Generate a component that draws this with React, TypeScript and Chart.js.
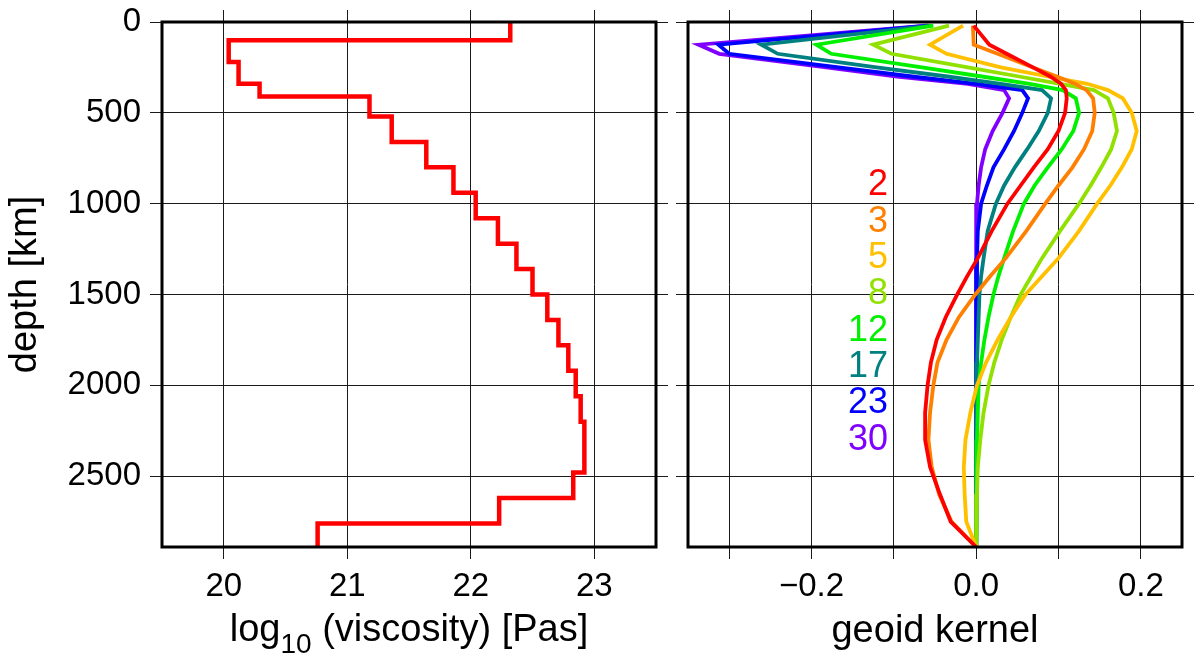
import { useEffect, useRef } from 'react';
import { Chart, registerables } from 'chart.js';

Chart.register(...registerables);

// ---------------- data ----------------
// viscosity profile: layer boundaries (km) and log10 viscosity per layer
const LAYER_BOUNDS = [0, 100, 220, 340, 410, 520, 660, 800, 940, 1080, 1220, 1360, 1500, 1640, 1780, 1920, 2060, 2200, 2480, 2620, 2760, 2890];
const LOG_VISCOSITY = [22.32, 20.04, 20.12, 20.29, 21.18, 21.36, 21.64, 21.86, 22.04, 22.22, 22.37, 22.5, 22.62, 22.71, 22.79, 22.85, 22.89, 22.92, 22.83, 22.23, 20.76];

// geoid kernels: common depth samples (km)
const KERNEL_DEPTHS = [20, 125, 175, 250, 300, 340, 375, 420, 500, 600, 700, 800, 900, 1000, 1150, 1300, 1400, 1500, 1625, 1750, 1875, 2000, 2150, 2300, 2450, 2600, 2750, 2890];
const KERNEL_L2 = [-0.003, 0.016, 0.037, 0.069, 0.09, 0.103, 0.109, 0.11, 0.108, 0.1, 0.087, 0.07, 0.054, 0.038, 0.019, 0.002, -0.011, -0.023, -0.037, -0.048, -0.055, -0.059, -0.062, -0.062, -0.056, -0.044, -0.031, 0];
const KERNEL_L3 = [-0.004, -0.003, 0.026, 0.069, 0.098, 0.12, 0.134, 0.142, 0.144, 0.141, 0.131, 0.117, 0.1, 0.084, 0.061, 0.036, 0.017, -0.001, -0.021, -0.036, -0.047, -0.052, -0.056, -0.058, -0.054, -0.045, -0.03, 0];
const KERNEL_L5 = [-0.016, -0.056, -0.036, 0.03, 0.087, 0.135, 0.16, 0.178, 0.189, 0.195, 0.189, 0.177, 0.163, 0.147, 0.125, 0.1, 0.08, 0.06, 0.042, 0.026, 0.012, 0.001, -0.007, -0.013, -0.015, -0.014, -0.012, 0];
const KERNEL_L8 = [-0.033, -0.125, -0.103, -0.01, 0.052, 0.102, 0.143, 0.16, 0.167, 0.171, 0.164, 0.152, 0.139, 0.125, 0.102, 0.08, 0.067, 0.054, 0.042, 0.031, 0.022, 0.015, 0.009, 0.005, 0.002, 0.001, 0, 0];
const KERNEL_L12 = [-0.052, -0.194, -0.176, -0.066, 0.007, 0.065, 0.105, 0.121, 0.125, 0.118, 0.104, 0.087, 0.071, 0.058, 0.045, 0.034, 0.027, 0.021, 0.015, 0.01, 0.006, 0.003, 0.002, 0.001, 0.001, 0, 0, 0];
const KERNEL_L17 = [-0.055, -0.261, -0.241, -0.121, -0.035, 0.03, 0.08, 0.091, 0.087, 0.076, 0.062, 0.047, 0.034, 0.024, 0.014, 0.009, 0.006, 0.004, 0.003, 0.002, 0.001, 0.001, 0, 0, 0, 0, 0, 0];
const KERNEL_L23 = [-0.058, -0.313, -0.3, -0.167, -0.078, 0, 0.056, 0.063, 0.056, 0.046, 0.034, 0.021, 0.013, 0.006, 0.002, 0.001, 0, 0, 0, 0, 0, 0, 0, 0, 0, 0, 0, 0];
const KERNEL_L30 = [-0.06, -0.337, -0.312, -0.182, -0.096, -0.01, 0.034, 0.04, 0.032, 0.02, 0.011, 0.006, 0.003, 0.001, 0, 0, 0, 0, 0, 0, 0, 0, 0, 0, 0, 0, 0, 0];

const DEGREES = ['2', '3', '5', '8', '12', '17', '23', '30'];
const KERNELS = [KERNEL_L2, KERNEL_L3, KERNEL_L5, KERNEL_L8, KERNEL_L12, KERNEL_L17, KERNEL_L23, KERNEL_L30];
const DEGREE_COLORS = ['#ff0000', '#ff8000', '#ffc000', '#90e000', '#00f000', '#008080', '#0000ff', '#8000ff'];
const LABEL_DEPTHS = [900, 1100, 1300, 1500, 1700, 1900, 2100, 2300];
const LABEL_X = -0.107;

// axes and ticks
const DEPTH_MIN = 0;
const DEPTH_MAX = 2890;
const DEPTH_TICKS = [0, 500, 1000, 1500, 2000, 2500];
const VISC_MIN = 19.5;
const VISC_MAX = 23.5;
const VISC_TICKS = [20, 21, 22, 23];
const KERNEL_MIN = -0.35;
const KERNEL_MAX = 0.25;
const KERNEL_TICKS = [-0.3, -0.2, -0.1, 0, 0.1, 0.2];
const KERNEL_TICK_LABELS = ['', '\u22120.2', '', '0.0', '', '0.2'];

const X_TITLE_LEFT_MAIN = 'log';
const X_TITLE_LEFT_SUB = '10';
const X_TITLE_LEFT_REST = ' (viscosity) [Pas]';

const FONT = "'Liberation Sans', Arial, Helvetica, sans-serif";
const TICK_SIZE = 33;
const TITLE_SIZE = 38;
const GRID_COLOR = '#1a1a1a';

const framePlugin = {
  id: 'frame',
  afterDatasetsDraw(chart: any) {
    const { ctx, chartArea } = chart;
    ctx.save();
    ctx.strokeStyle = '#000';
    ctx.lineWidth = 3;
    ctx.strokeRect(chartArea.left, chartArea.top, chartArea.right - chartArea.left, chartArea.bottom - chartArea.top);
    ctx.restore();
  },
};

const degreeLabelPlugin = {
  id: 'degreeLabels',
  afterDatasetsDraw(chart: any) {
    const { ctx, scales } = chart;
    ctx.save();
    ctx.font = `36px ${FONT}`;
    ctx.textAlign = 'right';
    ctx.textBaseline = 'middle';
    DEGREES.forEach((d, i) => {
      ctx.fillStyle = DEGREE_COLORS[i];
      ctx.fillText(d, scales.x.getPixelForValue(LABEL_X), scales.y.getPixelForValue(LABEL_DEPTHS[i]));
    });
    ctx.restore();
  },
};

// x-axis title with a real subscript (log10)
const subscriptTitlePlugin = {
  id: 'subscriptTitle',
  afterDraw(chart: any) {
    const { ctx, chartArea, height } = chart;
    ctx.save();
    ctx.fillStyle = '#000';
    ctx.textBaseline = 'alphabetic';
    ctx.textAlign = 'left';
    const main = `${TITLE_SIZE}px ${FONT}`;
    const sub = `28px ${FONT}`;
    ctx.font = main;
    const w1 = ctx.measureText(X_TITLE_LEFT_MAIN).width;
    const w3 = ctx.measureText(X_TITLE_LEFT_REST).width;
    ctx.font = sub;
    const w2 = ctx.measureText(X_TITLE_LEFT_SUB).width;
    const total = w1 + w2 + w3;
    let x = (chartArea.left + chartArea.right) / 2 - total / 2;
    const base = height - 14;
    ctx.font = main;
    ctx.fillText(X_TITLE_LEFT_MAIN, x, base);
    x += w1;
    ctx.font = sub;
    ctx.fillText(X_TITLE_LEFT_SUB, x, base + 12);
    x += w2;
    ctx.font = main;
    ctx.fillText(X_TITLE_LEFT_REST, x, base);
    ctx.restore();
  },
};

function setTicks(values: number[]) {
  return (s: any) => {
    s.ticks = values.map((v) => ({ value: v }));
  };
}

function sideAxis(position: string, min: number, max: number, values: number[], reverse: boolean) {
  const horizontal = position === 'top' || position === 'bottom';
  return {
    type: 'linear',
    position,
    min,
    max,
    reverse,
    afterBuildTicks: setTicks(values),
    ticks: { display: false },
    grid: { drawOnChartArea: false, drawTicks: true, tickLength: 12, color: GRID_COLOR, lineWidth: 1 },
    border: { display: false },
    afterFit: (s: any) => {
      if (horizontal) s.height = 12;
      else s.width = 12;
      s.paddingTop = 0;
      s.paddingBottom = 0;
      s.paddingLeft = 0;
      s.paddingRight = 0;
    },
  };
}

function depthAxis(showLabels: boolean, width: number) {
  return {
    type: 'linear',
    position: 'left',
    min: DEPTH_MIN,
    max: DEPTH_MAX,
    reverse: true,
    afterBuildTicks: setTicks(DEPTH_TICKS),
    ticks: {
      display: showLabels,
      padding: 9,
      color: '#000',
      font: { family: FONT, size: TICK_SIZE },
      callback: (v: any) => String(v),
    },
    grid: { color: GRID_COLOR, lineWidth: 1, tickLength: 12, drawTicks: true },
    border: { display: false },
    title: {
      display: showLabels,
      text: 'depth [km]',
      color: '#000',
      font: { family: FONT, size: TITLE_SIZE },
      padding: { top: 3, bottom: 0 },
    },
    afterFit: (s: any) => {
      s.width = width;
      s.paddingTop = 0;
      s.paddingBottom = 0;
    },
  };
}

function valueAxis(min: number, max: number, values: number[], title: string, showTitle: boolean, formatter: (v: number, i: number) => string) {
  return {
    type: 'linear',
    position: 'bottom',
    min,
    max,
    afterBuildTicks: setTicks(values),
    ticks: {
      padding: 8,
      color: '#000',
      maxRotation: 0,
      autoSkip: false,
      font: { family: FONT, size: TICK_SIZE },
      callback: (v: any, i: number) => formatter(Number(v), i),
    },
    grid: { color: GRID_COLOR, lineWidth: 1, tickLength: 12, drawTicks: true },
    border: { display: false },
    title: {
      display: showTitle,
      text: title,
      color: '#000',
      font: { family: FONT, size: TITLE_SIZE },
      padding: { top: 0, bottom: 1 },
    },
    afterFit: (s: any) => {
      s.height = 108;
      s.paddingLeft = 0;
      s.paddingRight = 0;
    },
  };
}

export default function App() {
  const leftRef = useRef<HTMLCanvasElement>(null);
  const rightRef = useRef<HTMLCanvasElement>(null);

  useEffect(() => {
    document.body.style.margin = '0';

    const viscPoints: { x: number; y: number }[] = [];
    LOG_VISCOSITY.forEach((v, i) => {
      viscPoints.push({ x: v, y: LAYER_BOUNDS[i] });
      viscPoints.push({ x: v, y: LAYER_BOUNDS[i + 1] });
    });

    const left = new Chart(leftRef.current as HTMLCanvasElement, {
      type: 'scatter',
      data: {
        datasets: [
          {
            label: 'log10 viscosity',
            data: viscPoints,
            showLine: true,
            borderColor: '#ff0000',
            backgroundColor: '#ff0000',
            borderWidth: 4.5,
            pointRadius: 0,
            borderJoinStyle: 'miter',
            tension: 0,
          },
        ],
      },
      options: {
        animation: false,
        responsive: false,
        devicePixelRatio: 1,
        layout: { padding: { left: 0, right: 4, top: 10, bottom: 0 } },
        plugins: { legend: { display: false }, tooltip: { enabled: false } },
        scales: {
          x: valueAxis(VISC_MIN, VISC_MAX, VISC_TICKS, 'log10 (viscosity) [Pas]', false, (v) => String(Math.round(v))),
          xTop: sideAxis('top', VISC_MIN, VISC_MAX, VISC_TICKS, false),
          y: depthAxis(true, 162),
          yRight: sideAxis('right', DEPTH_MIN, DEPTH_MAX, DEPTH_TICKS, true),
        },
      } as any,
      plugins: [framePlugin, subscriptTitlePlugin],
    });

    const right = new Chart(rightRef.current as HTMLCanvasElement, {
      type: 'scatter',
      data: {
        datasets: KERNELS.map((k, i) => ({
          label: DEGREES[i],
          data: KERNEL_DEPTHS.map((d, j) => ({ x: k[j], y: d })),
          showLine: true,
          borderColor: DEGREE_COLORS[i],
          backgroundColor: DEGREE_COLORS[i],
          borderWidth: 3.8,
          pointRadius: 0,
          tension: 0,
        })),
      },
      options: {
        animation: false,
        responsive: false,
        devicePixelRatio: 1,
        layout: { padding: { left: 4, right: 0, top: 10, bottom: 0 } },
        plugins: { legend: { display: false }, tooltip: { enabled: false } },
        scales: {
          x: valueAxis(KERNEL_MIN, KERNEL_MAX, KERNEL_TICKS, 'geoid kernel', true, (_v, i) => KERNEL_TICK_LABELS[i] ?? ''),
          xTop: sideAxis('top', KERNEL_MIN, KERNEL_MAX, KERNEL_TICKS, false),
          y: depthAxis(false, 12),
          yRight: sideAxis('right', DEPTH_MIN, DEPTH_MAX, DEPTH_TICKS, true),
        },
      } as any,
      plugins: [framePlugin, degreeLabelPlugin],
    });

    return () => {
      left.destroy();
      right.destroy();
    };
  }, []);

  return (
    <div style={{ position: 'absolute', left: 0, top: 0, width: 1194, height: 655, background: '#fff' }}>
      <canvas ref={leftRef} width={672} height={655} style={{ position: 'absolute', left: 0, top: 0 }} />
      <canvas ref={rightRef} width={522} height={655} style={{ position: 'absolute', left: 672, top: 0 }} />
    </div>
  );
}
